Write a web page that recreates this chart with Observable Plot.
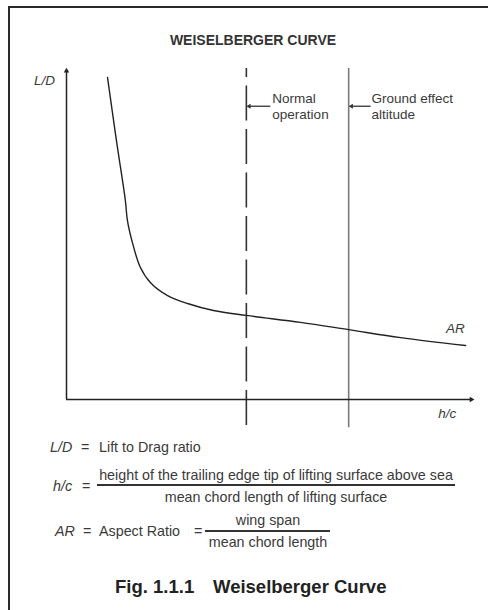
<!DOCTYPE html>
<html><head><meta charset="utf-8">
<script src="https://cdn.jsdelivr.net/npm/d3@7"></script>
<script src="https://cdn.jsdelivr.net/npm/@observablehq/plot@0.6"></script>
<style>
html,body{margin:0;padding:0;width:488px;height:610px;overflow:hidden;background:#fff;font-family:"Liberation Sans",Arial,sans-serif;color:#333;}
#frame{position:absolute;left:8px;top:6px;width:480px;height:604px;border-top:2px solid #2a2a2a;border-left:2px solid #2a2a2a;box-sizing:border-box;}
#title{position:absolute;left:253px;top:40px;transform:translate(-50%,-50%);font-weight:bold;font-size:14px;white-space:nowrap;color:#333;letter-spacing:0}
#chart{position:absolute;left:0;top:55px;}
.t{position:absolute;white-space:nowrap;font-size:14.3px;line-height:1;transform:translateY(-50%);color:#3a3a3a;letter-spacing:0}
.c{transform:translate(-50%,-50%)}
.i{font-style:italic}
.bar{position:absolute;height:1.6px;background:#333}
.fig{font-weight:bold;font-size:18.5px;color:#222;letter-spacing:0}
</style>
</head><body>
<div id="frame"></div>
<div id="title">WEISELBERGER CURVE</div>
<div id="chart"></div>
<div id="legend"></div>
<script>
// Curve: h/c (arbitrary units) vs L/D (arbitrary units)
const hc = [1.01, 1.23, 1.45, 1.50, 1.63, 1.82, 2.07, 2.49, 2.98, 3.62, 4.43, 5.76, 6.95, 8.23, 9.83];
const ld = [9.73, 7.82, 6.01, 5.41, 4.71, 3.99, 3.53, 3.14, 2.90, 2.69, 2.54, 2.33, 2.11, 1.87, 1.63];
// Reference lines
const normalHc = 4.43;
const groundHc = 6.95;
const lineTop = 10, lineBottom = -0.85;
// Annotation labels
const noteLabels = ["Normal\noperation", "Ground effect\naltitude"];
const noteX = [5.07, 7.51];
const noteArrowFrom = [5.02, 7.49];
const noteArrowTo = [4.50, 7.02];
const noteY = 8.86;
// Axis labels
const axisLabels = ["L/D", "h/c", "AR"];
const axisLabelX = [-0.54, 9.38, 9.58];
const axisLabelY = [9.64, -0.42, 2.14];

const curve = hc.map((x, i) => ({x, y: ld[i]}));
const notes = noteLabels.map((t, i) => ({t, x: noteX[i], x1: noteArrowFrom[i], x2: noteArrowTo[i], y: noteY}));
const labels = axisLabels.map((t, i) => ({t, x: axisLabelX[i], y: axisLabelY[i]}));

const plot = Plot.plot({
  width: 488, height: 380,
  marginLeft: 66, marginRight: 16, marginTop: 13, marginBottom: 36,
  x: {domain: [0, 10], axis: null},
  y: {domain: [0, 10], axis: null},
  style: {fontFamily: "Liberation Sans, Arial, sans-serif", background: "transparent", overflow: "visible"},
  marks: [
    Plot.ruleX([normalHc], {y1: lineTop, y2: lineBottom, stroke: "#333", strokeWidth: 1.6, strokeDasharray: "35,8.5", strokeDashoffset: 26}),
    Plot.ruleX([groundHc], {y1: lineTop, y2: lineBottom, stroke: "#7a7a7a", strokeWidth: 1.6}),
    Plot.line(curve, {x: "x", y: "y", curve: "catmull-rom", stroke: "#222", strokeWidth: 1.4}),
    // axes
    Plot.ruleX([0], {y1: 0, y2: 9.9, stroke: "#222", strokeWidth: 1.5}),
    Plot.ruleY([0], {x1: 0, x2: 9.95, stroke: "#222", strokeWidth: 1.5}),
    Plot.dot([{x: 0, y: 9.93}], {x: "x", y: "y", symbol: "triangle2", r: 2.6, fill: "#222", stroke: null}),
    Plot.dot([{x: 9.97, y: 0}], {x: "x", y: "y", symbol: "triangle2", r: 2.6, fill: "#222", stroke: null, rotate: 90}),
    // annotation arrows
    Plot.link(notes, {x1: "x1", x2: "x2", y1: "y", y2: "y", stroke: "#333", strokeWidth: 1.3}),
    Plot.dot(notes, {x: "x2", y: "y", symbol: "triangle2", r: 2.3, fill: "#333", stroke: null, rotate: -90}),
    Plot.text(notes, {x: "x", y: "y", text: "t", textAnchor: "start", lineAnchor: "middle", lineHeight: 1.18, fontSize: 13.5, fill: "#3a3a3a"}),
    Plot.text(labels, {x: "x", y: "y", text: "t", fontStyle: "italic", fontSize: 13.5, fill: "#3a3a3a"})
  ]
});
document.getElementById("chart").appendChild(plot);

// Legend / definitions
const legendItems = [
  {t: "L/D", x: 50, y: 447, cls: "i"},
  {t: "=", x: 81, y: 447},
  {t: "Lift to Drag ratio", x: 99, y: 447},
  {t: "h/c", x: 53, y: 486, cls: "i"},
  {t: "=", x: 82, y: 486},
  {t: "height of the trailing edge tip of lifting surface above sea", x: 276, y: 475, cls: "c"},
  {t: "mean chord length of lifting surface", x: 276, y: 497, cls: "c"},
  {t: "AR", x: 55, y: 531, cls: "i"},
  {t: "=", x: 83, y: 531},
  {t: "Aspect Ratio", x: 99, y: 531},
  {t: "=", x: 194, y: 531},
  {t: "wing span", x: 268, y: 520, cls: "c"},
  {t: "mean chord length", x: 268, y: 542, cls: "c"},
  {t: "Fig. 1.1.1", x: 115, y: 587, cls: "fig"},
  {t: "Weiselberger Curve", x: 213, y: 587, cls: "fig"}
];
const bars = [{x: 97, y: 485, w: 358}, {x: 205, y: 531, w: 125}];
const lg = document.getElementById("legend");
for (const d of legendItems) {
  const el = document.createElement("div");
  el.className = "t " + (d.cls || "");
  el.style.left = d.x + "px"; el.style.top = d.y + "px";
  el.textContent = d.t;
  lg.appendChild(el);
}
for (const b of bars) {
  const el = document.createElement("div");
  el.className = "bar";
  el.style.left = b.x + "px"; el.style.top = (b.y - 0.8) + "px"; el.style.width = b.w + "px";
  lg.appendChild(el);
}
</script>
</body></html>
